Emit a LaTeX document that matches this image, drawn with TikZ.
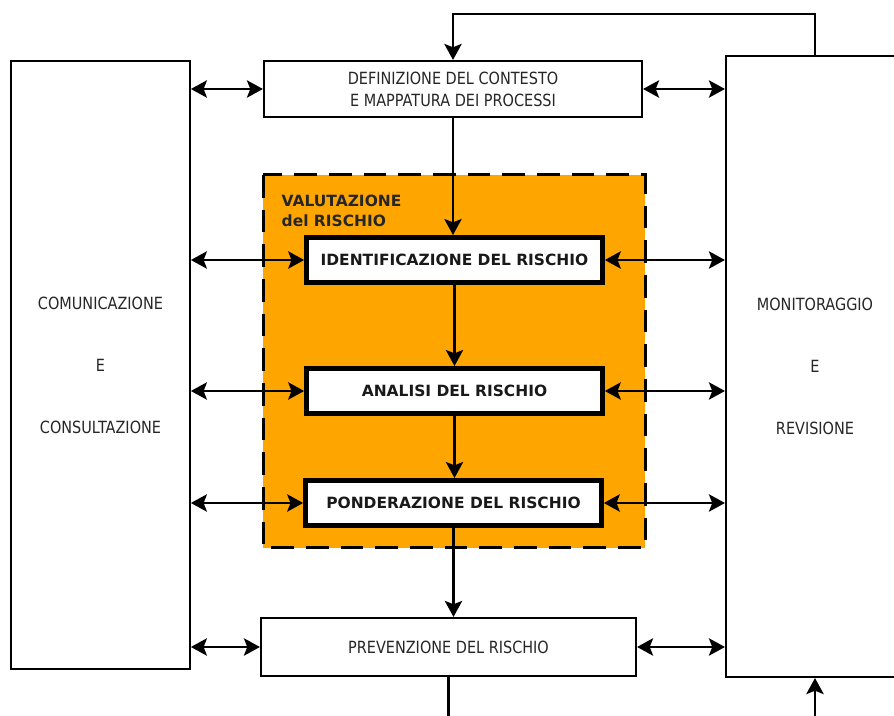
\documentclass[tikz,border=0pt]{standalone}
\usepackage{fontspec}
\setmainfont{DejaVu Sans}
\newfontfamily\narrowfont{DejaVu Sans}[FakeStretch=0.86]
\usetikzlibrary{arrows.meta}
\definecolor{valorange}{RGB}{255,165,0}
\tikzset{
  procbox/.style={draw, line width=1.6pt, fill=white, font=\narrowfont\fontsize{12.6}{16.5}\selectfont,
    text=black!85, align=center, inner sep=0pt},
  riskbox/.style={draw, line width=3.5pt, fill=white, font=\bfseries\fontsize{11.6}{13}\selectfont,
    text=black!90, inner sep=0pt, minimum width=222pt, minimum height=34pt},
  link/.style={line width=1.7pt, -{Stealth[length=12pt, width=13pt, inset=2.5pt]}},
  dlink/.style={line width=1.7pt, {Stealth[length=12pt, width=13pt, inset=2.5pt]}-{Stealth[length=12pt, width=13pt, inset=2.5pt]}},
}

\begin{document}
\begin{tikzpicture}[x=0.75pt, y=-0.75pt]
  \useasboundingbox (0,0) rectangle (894,716);
  \draw[dash pattern=on 17pt off 9pt, line width=2.25pt, fill=valorange] (263,175) rectangle (645,548);
  \node[anchor=north west, align=left, font=\bfseries\fontsize{11.6}{15}\selectfont, text=black!85] (val) at (277,190) {VALUTAZIONE\\del RISCHIO};

  \node[procbox, minimum width=134pt, minimum height=456pt] (comm) at (100.5,365)
    {COMUNICAZIONE\\[30pt]E\\[30pt]CONSULTAZIONE};
  \node[procbox, minimum width=133.5pt, minimum height=465.75pt] (moni) at (815,366.5)
    {MONITORAGGIO\\[30pt]E\\[30pt]REVISIONE};
  \node[procbox, minimum width=283.5pt, minimum height=42pt] (cont) at (453,89)
    {DEFINIZIONE DEL CONTESTO\\E MAPPATURA DEI PROCESSI};
  \node[riskbox] (iden) at (454.5,260) {IDENTIFICAZIONE DEL RISCHIO};
  \node[riskbox] (anal) at (454.5,391) {ANALISI DEL RISCHIO};
  \node[riskbox] (pond) at (453.5,503) {PONDERAZIONE DEL RISCHIO};
  \node[procbox, minimum width=281.25pt, minimum height=43.5pt] (prev) at (448.5,647)
    {PREVENZIONE DEL RISCHIO};
  \coordinate (bot) at (0,725);

  \draw[link] (moni.north) -- ++(0,-41) -| (cont.north);
  \draw[link] (cont.south) -- (cont.south |- iden.north);
  \draw[link] (iden.south) -- (iden.south |- anal.north);
  \draw[link] (anal.south) -- (anal.south |- pond.north);
  \draw[link] (pond.south) -- (pond.south |- prev.north);
  \draw[line width=1.7pt] (prev.south) -- (prev.south |- bot);
  \draw[link] (moni.south |- bot) -- (moni.south);

  \foreach \n in {cont,iden,anal,pond,prev}{
    \draw[dlink] (comm.east |- \n.west) -- (\n.west);
    \draw[dlink] (\n.east) -- (moni.west |- \n.east);
  }
\end{tikzpicture}
\end{document}
